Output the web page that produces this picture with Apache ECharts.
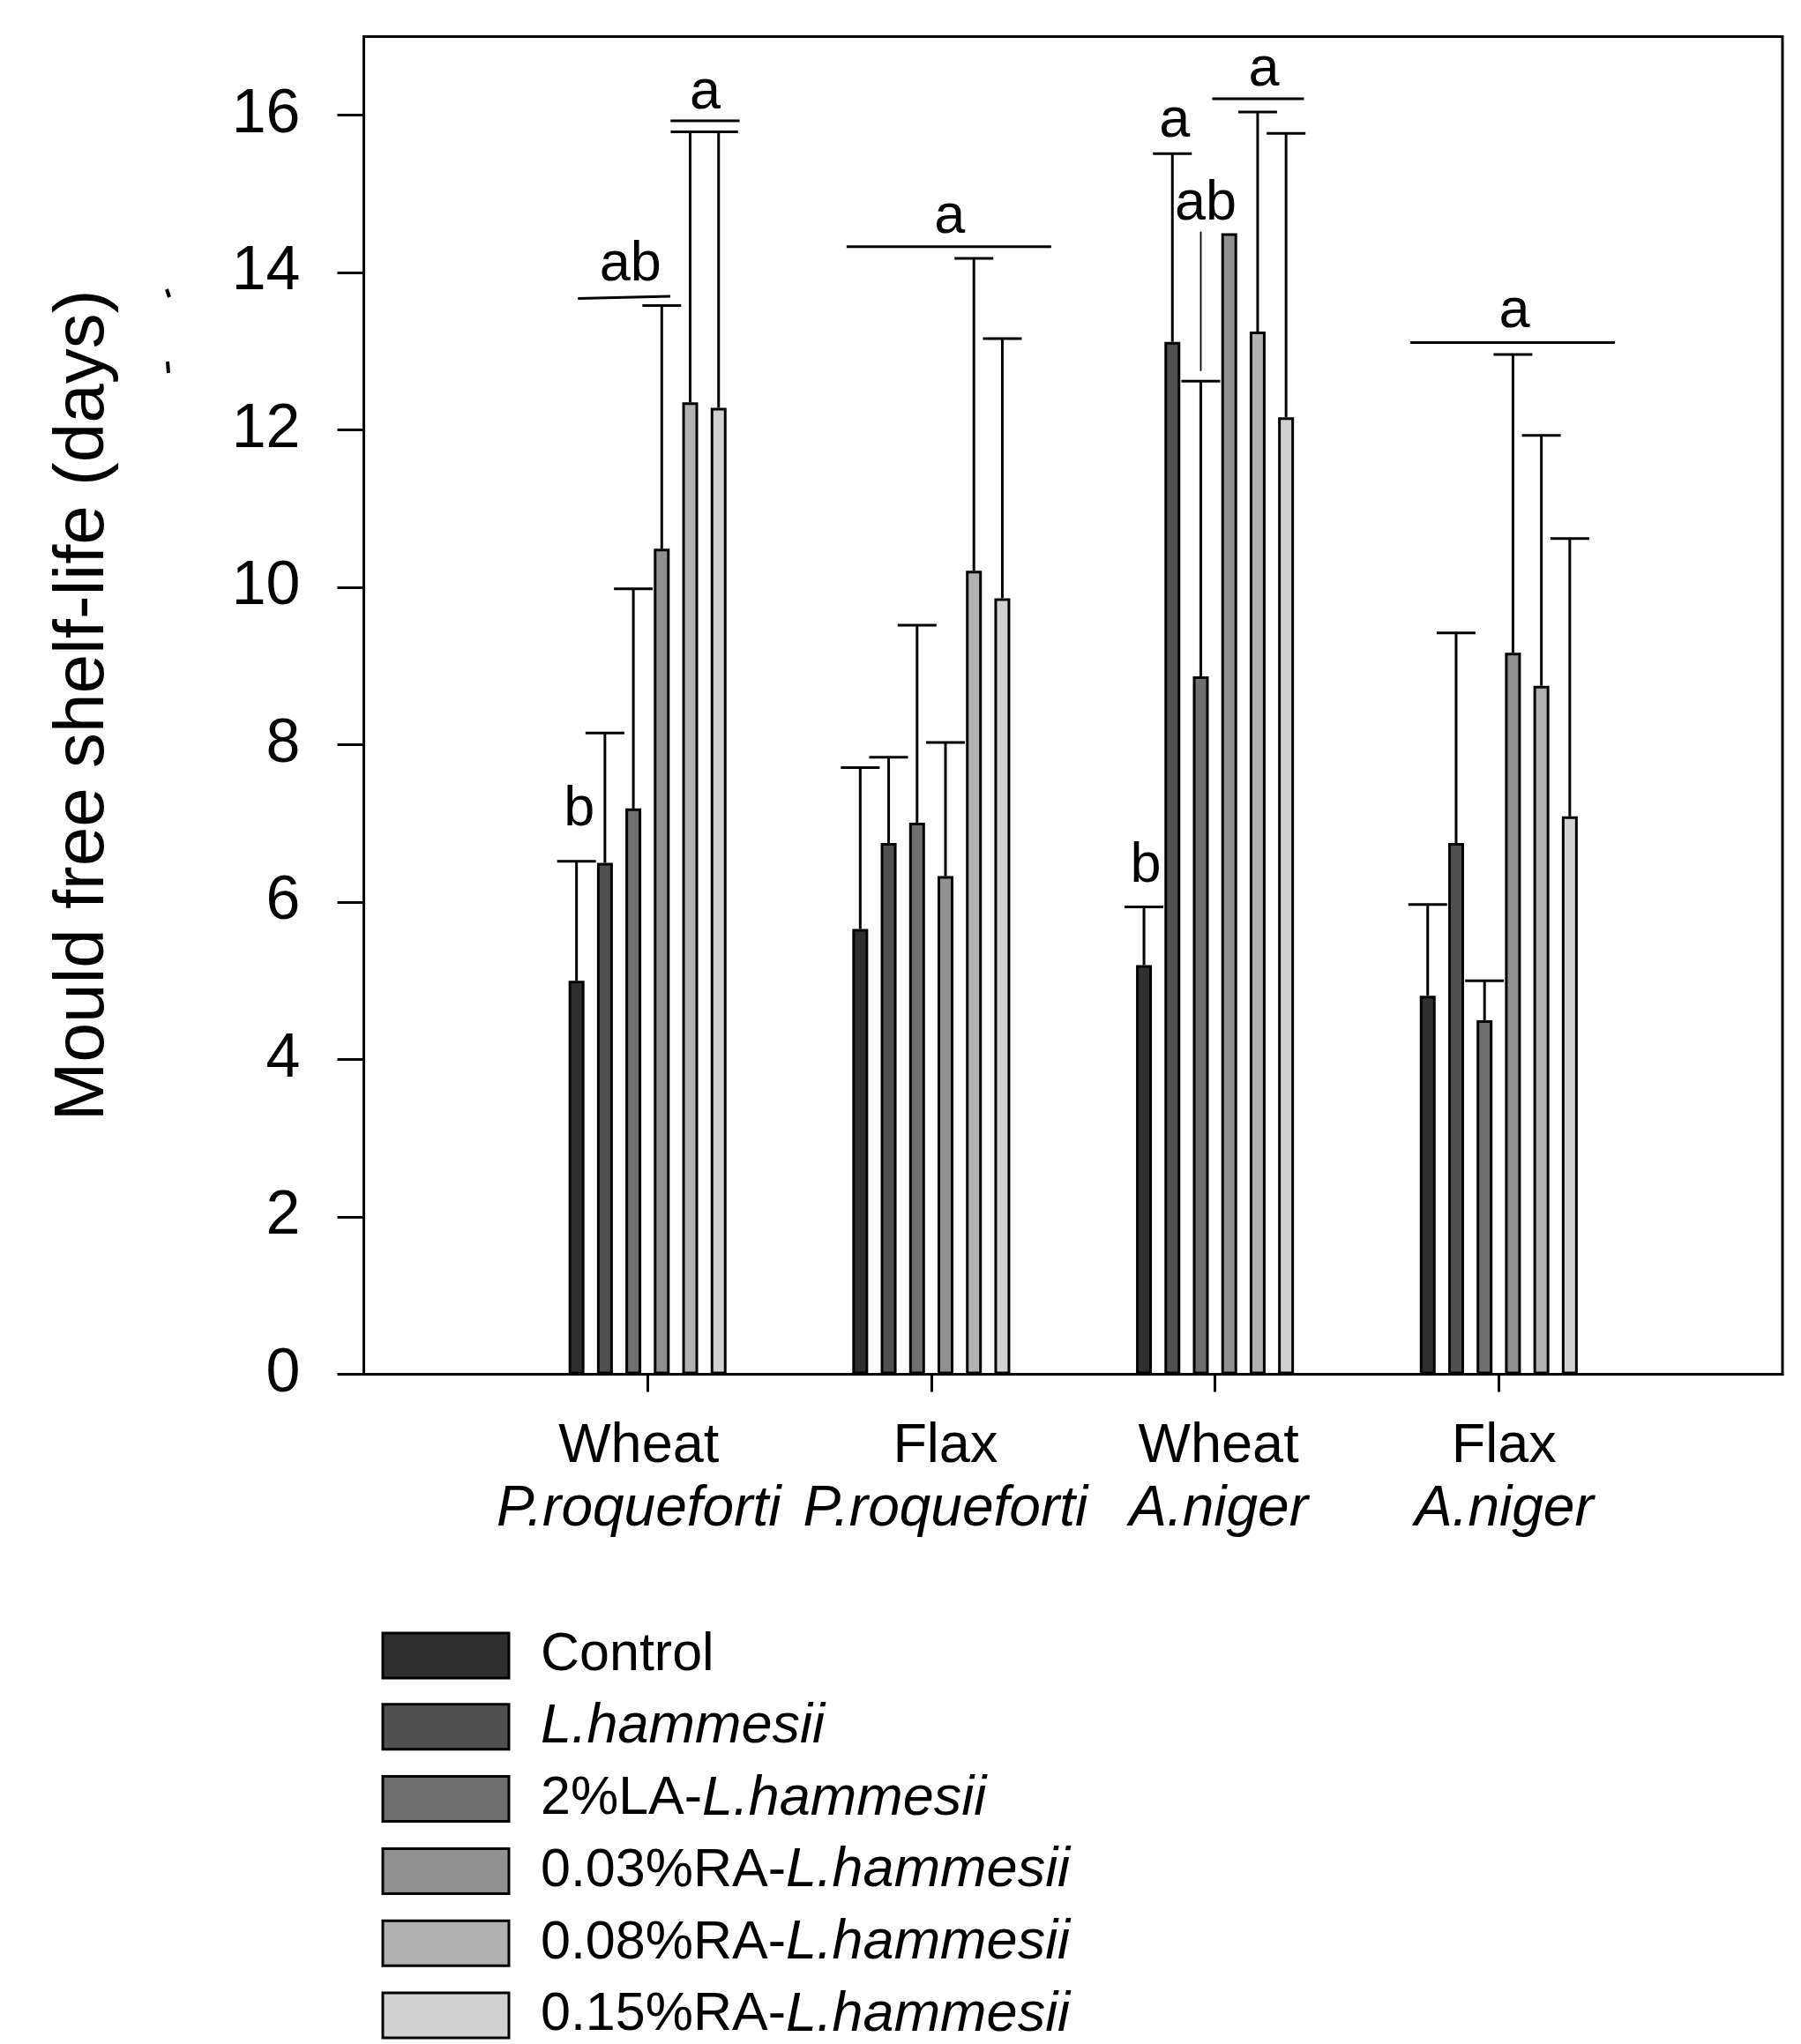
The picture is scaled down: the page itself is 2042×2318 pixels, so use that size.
<!DOCTYPE html>
<html><head><meta charset="utf-8">
<script src="https://cdn.jsdelivr.net/npm/echarts@6/dist/echarts.min.js"></script>
<style>html,body{margin:0;padding:0;background:#fff}#c{width:2042px;height:2318px}</style>
</head><body><div id="c"></div>
<script>
// ---------- data ----------
const groupTop = ['Wheat', 'Flax', 'Wheat', 'Flax'];
const groupBottom = ['P.roqueforti', 'P.roqueforti', 'A.niger', 'A.niger'];
const seriesNames = ['Control', 'L.hammesii', '2%LA-L.hammesii', '0.03%RA-L.hammesii', '0.08%RA-L.hammesii', '0.15%RA-L.hammesii'];
const seriesColors = ['#2f2f2f', '#505050', '#6f6f6f', '#909090', '#b1b1b1', '#d2d2d2'];

const controlMean = [5.00, 5.66, 5.20, 4.81];
const lhMean      = [6.50, 6.75, 13.12, 6.75];
const la2Mean     = [7.19, 7.01, 8.87, 4.50];
const ra003Mean   = [10.49, 6.33, 14.50, 9.17];
const ra008Mean   = [12.35, 10.21, 13.25, 8.75];
const ra015Mean   = [12.28, 9.86, 12.16, 7.09];

const controlSD = [1.52, 2.05, 0.74, 1.16];
const lhSD      = [1.65, 1.09, 2.39, 2.67];
const la2SD     = [2.79, 2.51, 3.75, 0.50];
const ra003SD   = [3.09, 1.70, null, 3.79];
const ra008SD   = [3.44, 3.97, 2.79, 3.18];
const ra015SD   = [3.51, 3.30, 3.61, 3.53];

const yTicks = [0, 2, 4, 6, 8, 10, 12, 14, 16];

// significance annotations: [group, slot position (bar slots 0..5), baseline value, text]
const sigLetters = [
  [0, 0.10, 6.92, 'b'], [0, 1.90, 13.85, 'ab'], [0, 4.53, 16.03, 'a'],
  [1, 3.15, 14.45, 'a'],
  [2, 0.06, 6.21, 'b'], [2, 1.08, 15.68, 'a'], [2, 2.17, 14.62, 'ab'], [2, 4.22, 16.33, 'a'],
  [3, 3.05, 13.25, 'a']
];
// [group, slot from, slot to, value at left, value at right]
const sigLines = [
  [0, 0.05, 3.30, 13.67, 13.70], [0, 3.31, 5.74, 15.93, 15.93],
  [1, -0.48, 6.72, 14.33, 14.33],
  [2, 2.40, 5.63, 16.21, 16.21],
  [3, -0.61, 6.59, 13.11, 13.11]
];
// thin leader line: [group, slot, value from, value to]
const leaderLines = [[2, 2, 12.75, 14.52]];

// ---------- style ----------
const BAR_W = 18, GAP = 0.79, PITCH = BAR_W * (1 + GAP), CAP = 44, NS = 6;
const FONT = "'Liberation Sans', Arial, sans-serif";
const LETTER_FS = 63;
const LABEL_SHIFT = [-10, 16, 4, 6]; // horizontal nudge of each category label (px)

// ---------- build ----------
const means = [controlMean, lhMean, la2Mean, ra003Mean, ra008Mean, ra015Mean];
const sds = [controlSD, lhSD, la2SD, ra003SD, ra008SD, ra015SD];
const cats = ['_start'].concat(groupTop.map((t, i) => t + '|' + groupBottom[i])).concat(['_end']);

const errData = [];
means.forEach((m, s) => m.forEach((v, g) => {
  if (sds[s][g] != null) errData.push([g + 1, s, v, sds[s][g]]);
}));

const annData = [];
sigLetters.forEach(a => annData.push({ value: [a[0] + 1, a[2]], kind: 'text', a }));
sigLines.forEach(a => annData.push({ value: [a[0] + 1, a[3]], kind: 'line', a }));
leaderLines.forEach(a => annData.push({ value: [a[0] + 1, a[2]], kind: 'leader', a }));

function slotX(api, cat, slot) {
  return api.coord([cat, 0])[0] + (slot - (NS - 1) / 2) * PITCH;
}

const xRich = {};
LABEL_SHIFT.forEach((sh, i) => {
  const pad = sh >= 0 ? [0, 0, 0, 2 * sh] : [0, -2 * sh, 0, 0];
  xRich['t' + i] = { fontSize: 63, fontFamily: FONT, color: '#000', lineHeight: 72, padding: pad };
  xRich['b' + i] = { fontSize: 64, fontFamily: FONT, color: '#000', lineHeight: 72, fontStyle: 'italic', padding: pad };
});

const barSeries = seriesNames.map((name, s) => ({
  name, type: 'bar', barWidth: BAR_W, barGap: (GAP * 100) + '%',
  data: [null].concat(means[s]).concat([null]),
  itemStyle: { color: seriesColors[s], borderColor: '#000', borderWidth: 3 },
  emphasis: { disabled: true }, z: 2
}));

const option = {
  animation: false,
  backgroundColor: '#fff',
  grid: { left: 412.5, right: 21, top: 41.4, bottom: 759.5, show: true, borderColor: '#000', borderWidth: 3, containLabel: false },
  xAxis: {
    type: 'category', data: cats, boundaryGap: false,
    axisLine: { lineStyle: { color: '#000', width: 3 } },
    axisTick: { length: 20, lineStyle: { color: '#000', width: 3 }, interval: (i) => i >= 1 && i <= groupTop.length },
    axisLabel: {
      interval: 0, margin: 46,
      formatter: (v) => {
        if (v.charAt(0) === '_') return '';
        const i = cats.indexOf(v) - 1;
        const p = v.split('|');
        return '{t' + i + '|' + p[0] + '}\n{b' + i + '|' + p[1] + '}';
      },
      rich: xRich
    },
    splitLine: { show: false }
  },
  yAxis: {
    type: 'value', min: 0, max: 17,
    name: 'Mould free shelf-life (days)', nameLocation: 'middle', nameRotate: 90, nameGap: 278,
    nameTextStyle: { fontSize: 80, fontFamily: FONT, color: '#000' },
    axisLine: { show: true, lineStyle: { color: '#000', width: 3 } },
    axisTick: { show: true, length: 30, customValues: yTicks, lineStyle: { color: '#000', width: 3 } },
    axisLabel: { customValues: yTicks, fontSize: 70, fontFamily: FONT, color: '#000', margin: 72 },
    splitLine: { show: false }
  },
  legend: {
    orient: 'vertical', left: 432.5, top: 1847, height: 650, padding: 0, itemGap: 18.8,
    itemWidth: 143, itemHeight: 51, icon: 'rect', selectedMode: false,
    data: seriesNames,
    itemStyle: { borderColor: '#000', borderWidth: 3 },
    formatter: (name) => {
      const k = name.indexOf('L.hammesii');
      if (k < 0) return '{s|}{n|' + name + '}';
      return '{s|}' + (k > 0 ? '{n|' + name.slice(0, k) + '}' : '') + '{i|L.hammesii}';
    },
    textStyle: {
      rich: {
        s: { width: 31 },
        n: { fontSize: 61, fontFamily: FONT, color: '#000', lineHeight: 51 },
        i: { fontSize: 63, fontFamily: FONT, color: '#000', lineHeight: 51, fontStyle: 'italic' }
      }
    }
  },
  graphic: [
    { type: 'line', shape: { x1: 189, y1: 328, x2: 192, y2: 337 }, style: { stroke: '#000', lineWidth: 4 } },
    { type: 'line', shape: { x1: 190, y1: 410, x2: 191, y2: 423 }, style: { stroke: '#000', lineWidth: 4 } }
  ],
  series: barSeries.concat([
    {
      type: 'custom', name: 'error', data: errData, encode: { x: 0, y: 2 }, z: 3, silent: true,
      renderItem: (params, api) => {
        const cat = api.value(0), slot = api.value(1), mean = api.value(2), sd = api.value(3);
        const x = slotX(api, cat, slot);
        const yb = api.coord([cat, mean])[1];
        const yt = api.coord([cat, mean + sd])[1];
        return { type: 'group', children: [
          { type: 'line', shape: { x1: x, y1: yb, x2: x, y2: yt }, style: { stroke: '#000', lineWidth: 3 } },
          { type: 'line', shape: { x1: x - CAP / 2, y1: yt, x2: x + CAP / 2, y2: yt }, style: { stroke: '#000', lineWidth: 3 } }
        ] };
      }
    },
    {
      type: 'custom', name: 'annotations', data: annData, encode: { x: 0, y: 1 }, z: 4, silent: true,
      renderItem: (params, api) => {
        const item = annData[params.dataIndex];
        const a = item.a, cat = a[0] + 1;
        if (item.kind === 'text') {
          const x = slotX(api, cat, a[1]);
          const y = api.coord([cat, a[2]])[1] - LETTER_FS * 0.35;
          return { type: 'text', style: { text: a[3], x, y, align: 'center', verticalAlign: 'middle', fontSize: LETTER_FS, fontFamily: FONT, fill: '#000' } };
        }
        if (item.kind === 'line') {
          return { type: 'line', shape: { x1: slotX(api, cat, a[1]), y1: api.coord([cat, a[3]])[1], x2: slotX(api, cat, a[2]), y2: api.coord([cat, a[4]])[1] }, style: { stroke: '#000', lineWidth: 3 } };
        }
        const x = slotX(api, cat, a[1]);
        return { type: 'line', shape: { x1: x, y1: api.coord([cat, a[2]])[1], x2: x, y2: api.coord([cat, a[3]])[1] }, style: { stroke: '#000', lineWidth: 1.8 } };
      }
    }
  ])
};

const chart = echarts.init(document.getElementById('c'), null, { renderer: 'canvas' });
chart.setOption(option);
</script>
</body></html>
